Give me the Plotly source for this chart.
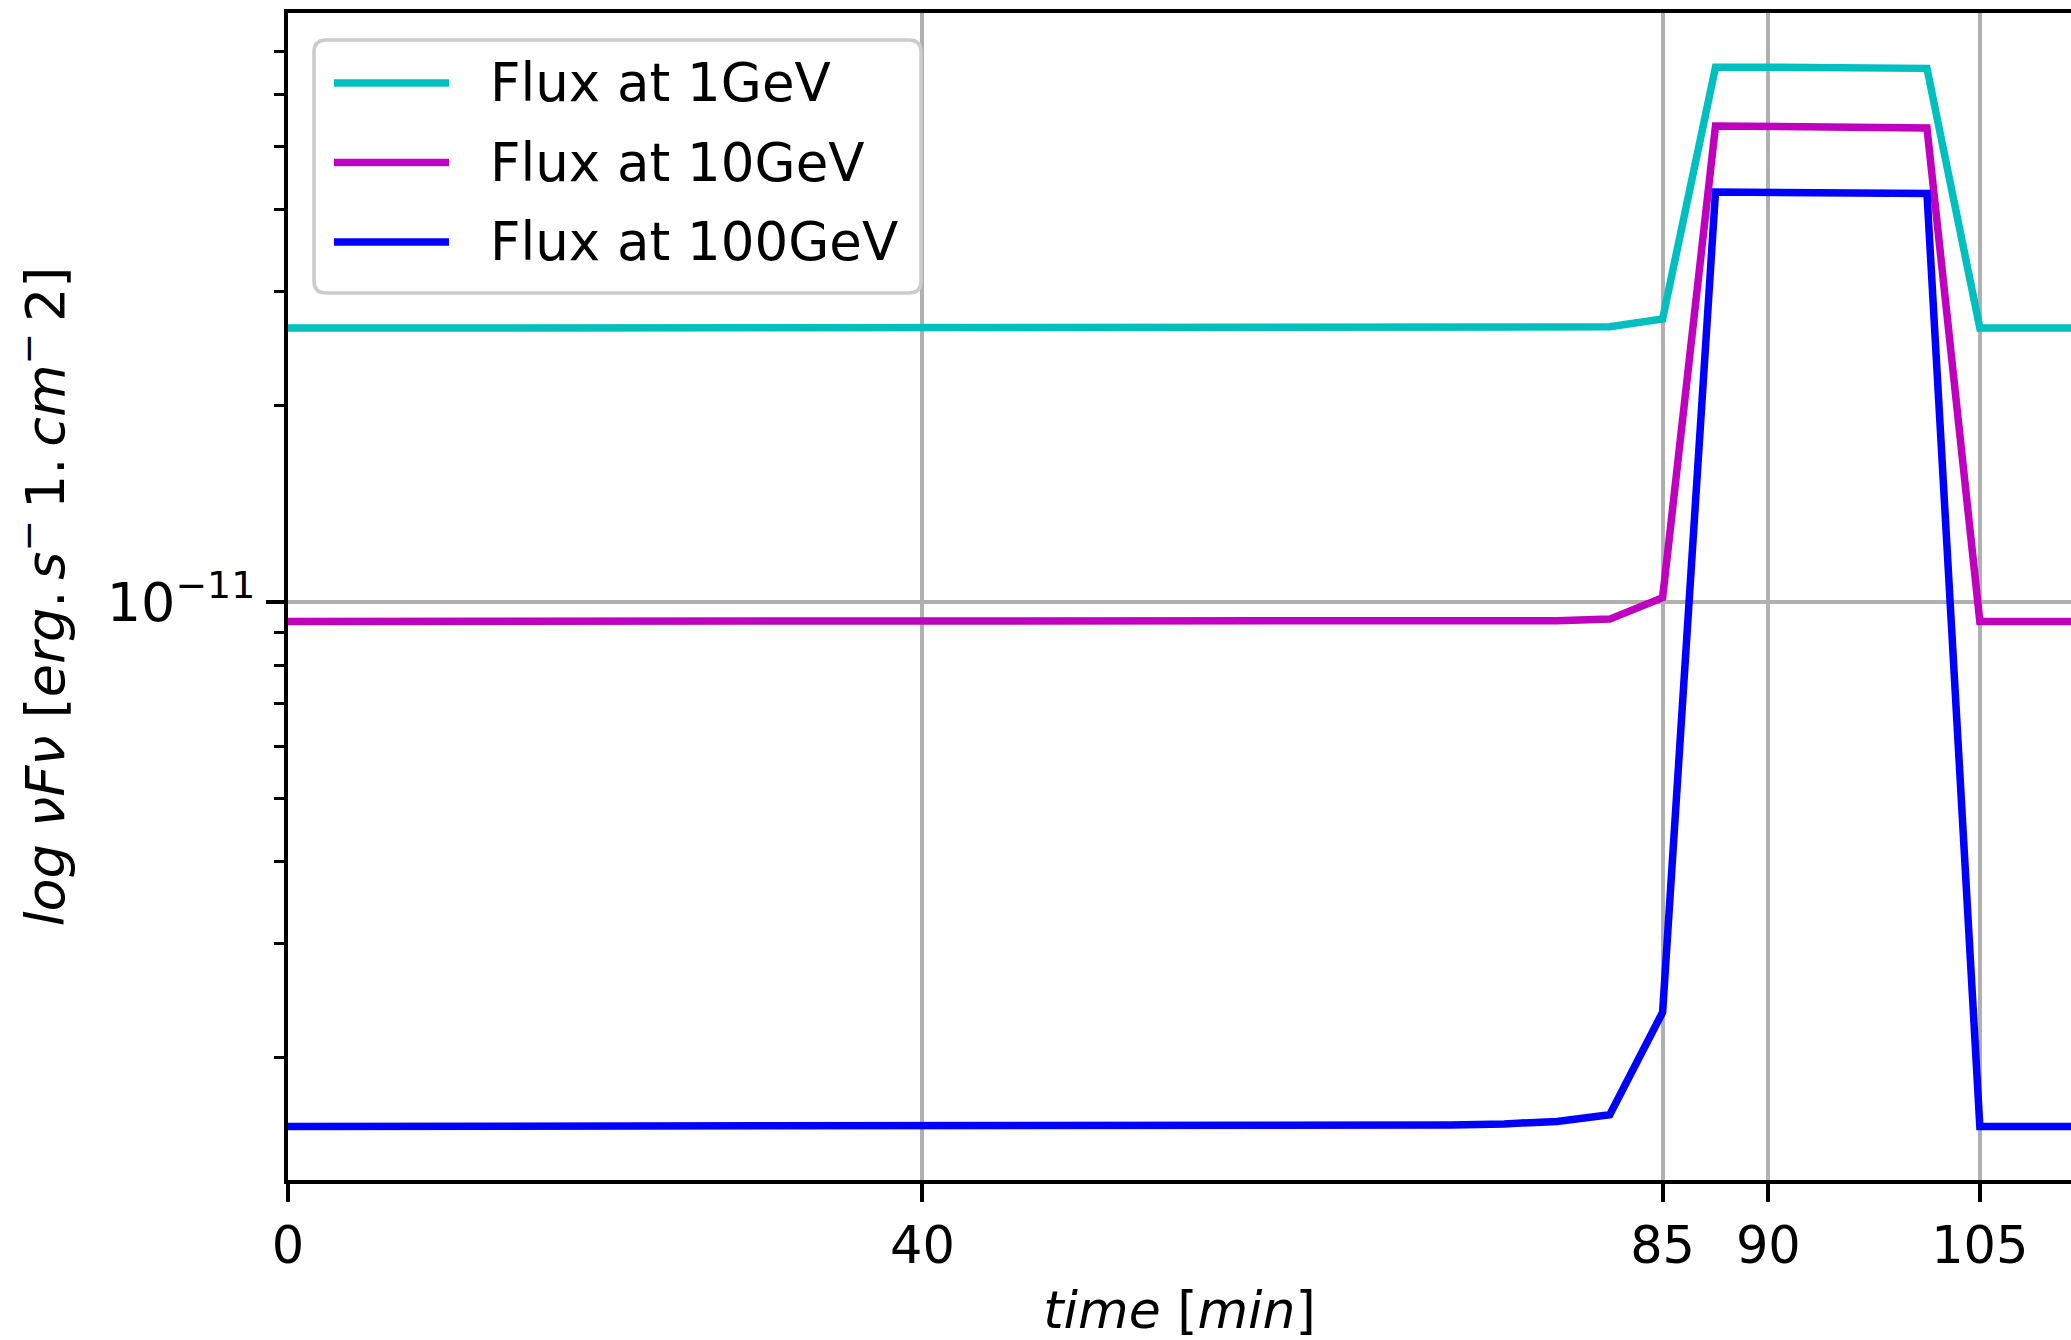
import plotly.graph_objects as go

# ---------------- data ----------------
sample_index = list(range(35))

flux_1gev = [
    2.633e-11, 2.633e-11, 2.633e-11, 2.633e-11, 2.633e-11, 2.633e-11, 2.633e-11,
    2.633e-11, 2.633e-11, 2.633e-11, 2.633e-11, 2.633e-11, 2.633e-11, 2.633e-11,
    2.633e-11, 2.633e-11, 2.633e-11, 2.633e-11, 2.633e-11, 2.633e-11, 2.633e-11,
    2.633e-11, 2.633e-11, 2.634e-11, 2.636e-11, 2.645e-11, 2.72e-11,
    6.616e-11, 6.616e-11, 6.615e-11, 6.612e-11, 6.59e-11,
    2.633e-11, 2.633e-11, 2.633e-11,
]

flux_10gev = [
    9.345e-12, 9.345e-12, 9.345e-12, 9.345e-12, 9.345e-12, 9.345e-12, 9.345e-12,
    9.345e-12, 9.345e-12, 9.345e-12, 9.345e-12, 9.345e-12, 9.345e-12, 9.345e-12,
    9.345e-12, 9.345e-12, 9.345e-12, 9.345e-12, 9.345e-12, 9.345e-12, 9.347e-12,
    9.349e-12, 9.352e-12, 9.356e-12, 9.37e-12, 9.42e-12, 1.016e-11,
    5.375e-11, 5.375e-11, 5.374e-11, 5.37e-11, 5.34e-11,
    9.345e-12, 9.345e-12, 9.345e-12,
]

flux_100gev = [
    1.570e-12, 1.570e-12, 1.570e-12, 1.570e-12, 1.570e-12, 1.570e-12, 1.570e-12,
    1.570e-12, 1.570e-12, 1.570e-12, 1.570e-12, 1.570e-12, 1.570e-12, 1.570e-12,
    1.570e-12, 1.570e-12, 1.570e-12, 1.570e-12, 1.571e-12, 1.572e-12, 1.573e-12,
    1.575e-12, 1.578e-12, 1.584e-12, 1.598e-12, 1.636e-12, 2.35e-12,
    4.257e-11, 4.257e-11, 4.256e-11, 4.252e-11, 4.235e-11,
    1.570e-12, 1.570e-12, 1.570e-12,
]

series_names = ["Flux at 1GeV", "Flux at 10GeV", "Flux at 100GeV"]
series_colors = ["#00BFBF", "#BF00BF", "#0000FF"]

time_tick_positions = [0, 12, 26, 28, 32]
time_tick_labels = ["0", "40", "85", "90", "105"]

y_major_ticks = [1e-11]
y_major_labels = ["10<sup>\u221211</sup>"]
y_minor_ticks = [2e-12, 3e-12, 4e-12, 5e-12, 6e-12, 7e-12, 8e-12, 9e-12,
                 2e-11, 3e-11, 4e-11, 5e-11, 6e-11, 7e-11]

# ---------------- layout geometry (pixels) ----------------
W, H = 2071, 1340
L, R, T, B = 288, 0, 13, 160
FONT = "DejaVu Sans"


def px_x(px):
    return (px - L) / (W - L - R)


def px_y(py):
    return (H - B - py) / (H - B - T)


fig = go.Figure()
for name, col, vals in zip(series_names, series_colors,
                           [flux_1gev, flux_10gev, flux_100gev]):
    fig.add_trace(go.Scatter(x=sample_index, y=vals, mode="lines", name=name,
                             line=dict(color=col, width=7.5),
                             showlegend=False))

# custom legend (matplotlib-like rounded frame)
bx0, bx1, by0, by1, rad = 314, 921, 40, 293, 12
x0, x1 = px_x(bx0), px_x(bx1)
yt, yb = px_y(by0), px_y(by1)
rx, ry = rad / (W - L - R), rad / (H - B - T)
path = (f"M {x0+rx},{yt} L {x1-rx},{yt} Q {x1},{yt} {x1},{yt-ry} "
        f"L {x1},{yb+ry} Q {x1},{yb} {x1-rx},{yb} L {x0+rx},{yb} "
        f"Q {x0},{yb} {x0},{yb+ry} L {x0},{yt-ry} Q {x0},{yt} {x0+rx},{yt} Z")
shapes = [dict(type="path", path=path, xref="paper", yref="paper",
               fillcolor="rgba(255,255,255,0.8)",
               line=dict(color="#cccccc", width=3.5), layer="above")]
annotations = []
row_y = [83, 162.5, 242]
for name, col, ry_px in zip(series_names, series_colors, row_y):
    shapes.append(dict(type="line", xref="paper", yref="paper",
                       x0=px_x(334), x1=px_x(449), y0=px_y(ry_px), y1=px_y(ry_px),
                       line=dict(color=col, width=7.5), layer="above"))
    annotations.append(dict(text=name, xref="paper", yref="paper",
                            x=px_x(488), y=px_y(ry_px), xanchor="left",
                            yanchor="middle", showarrow=False,
                            font=dict(family=FONT, size=53, color="black")))

fig.update_layout(
    width=W, height=H,
    margin=dict(l=L, r=R, t=T, b=B, pad=0),
    paper_bgcolor="white", plot_bgcolor="white",
    font=dict(family=FONT, size=51, color="black"),
    shapes=shapes, annotations=annotations,
    showlegend=False,
)

fig.update_xaxes(
    range=[0, (W - L - R) / 52.87],
    tickmode="array", tickvals=time_tick_positions, ticktext=time_tick_labels,
    ticks="outside", ticklen=18, tickwidth=4, tickcolor="black",
    tickfont=dict(family=FONT, size=51),
    showgrid=True, gridcolor="#b0b0b0", gridwidth=3.5,
    showline=True, linecolor="black", linewidth=4, mirror=True,
    zeroline=False,
    title=dict(text="<i>time</i> [<i>min</i>]", font=dict(family=FONT, size=52),
               standoff=28),
)

fig.update_yaxes(
    type="log",
    range=[-11.8863, -10.0962],
    tickmode="array", tickvals=y_major_ticks, ticktext=y_major_labels,
    ticks="outside", ticklen=18, tickwidth=4, tickcolor="black",
    tickfont=dict(family=FONT, size=54),
    showgrid=True, gridcolor="#b0b0b0", gridwidth=3.5,
    minor=dict(tickmode="array", tickvals=y_minor_ticks, ticks="outside",
               ticklen=10, tickwidth=3, tickcolor="black", showgrid=False),
    showline=True, linecolor="black", linewidth=4, mirror=False,
    zeroline=False,
    title=dict(text="<i>log \u03bdF\u03bd</i> [<i>erg</i>.\u2009<i>s</i><sup>\u2212</sup>\u20091.\u2009<i>cm</i><sup>\u2212</sup>\u20092]",
               font=dict(family=FONT, size=54), standoff=26),
)

fig.write_html("out.html")
